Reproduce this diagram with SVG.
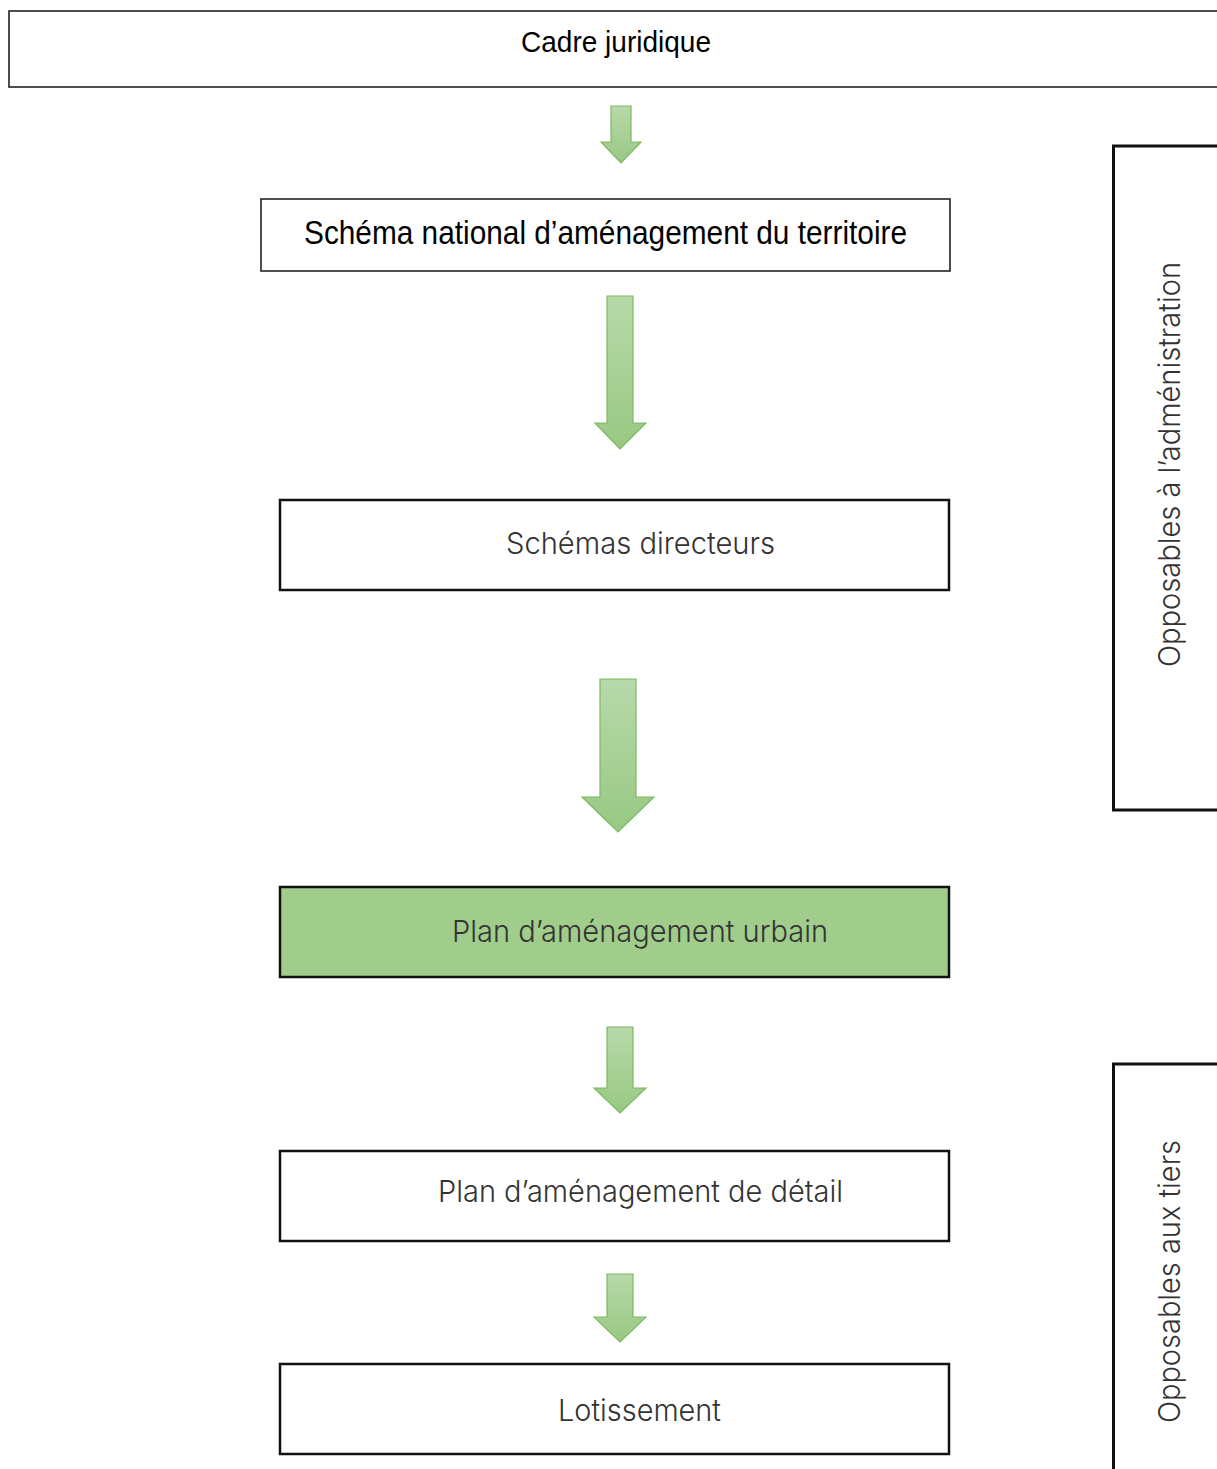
<svg xmlns="http://www.w3.org/2000/svg" width="1217" height="1469" viewBox="0 0 1217 1469">
  <style>
    .box { fill: #ffffff; stroke: #111111; stroke-width: 2.5; }
    .thin { stroke-width: 1.6; stroke: #222222; }
    .green { fill: #a0cd8c; }
    .side { fill: #ffffff; stroke: #111111; stroke-width: 3; }
    .arrow { fill: url(#arrowFill); stroke: #7dba62; stroke-width: 1.2; }
    .dark { font-family: "Liberation Sans", Arial, sans-serif; fill: #000000; text-anchor: middle; }
    .light { font-family: "Inter", "Lato", "Liberation Sans", sans-serif; font-weight: 300; fill: #333333; text-anchor: middle; }
  </style>
  <defs>
    <linearGradient id="arrowFill" x1="0" y1="0" x2="0" y2="1">
      <stop offset="0" stop-color="#b8d9aa"/>
      <stop offset="1" stop-color="#98c883"/>
    </linearGradient>
  </defs>

  <rect width="1217" height="1469" fill="#ffffff"/>

  <!-- Hierarchy arrows -->
  <g id="connectors">
    <polygon class="arrow" points="611,106 631,106 631,142 641,142 621,163 601,142 611,142"/>
    <polygon class="arrow" points="607,296 633,296 633,423 646,423 620,449 595,423 607,423"/>
    <polygon class="arrow" points="600,679 636,679 636,797 654,797 618,832 582,797 600,797"/>
    <polygon class="arrow" points="607,1027 633,1027 633,1088 646,1088 620,1113 594,1088 607,1088"/>
    <polygon class="arrow" points="607,1274 633,1274 633,1317 646,1317 620,1342 594,1317 607,1317"/>
  </g>

  <g id="cadre-juridique">
    <rect class="box thin" x="9" y="11" width="1220" height="76"/>
    <text class="dark" x="616" y="52" font-size="29" textLength="190" lengthAdjust="spacingAndGlyphs">Cadre juridique</text>
  </g>

  <g id="schema-national">
    <rect class="box thin" x="261" y="199" width="689" height="72"/>
    <text class="dark" x="605.5" y="244" font-size="33" textLength="603" lengthAdjust="spacingAndGlyphs">Schéma national d’aménagement du territoire</text>
  </g>

  <g id="schemas-directeurs">
    <rect class="box" x="280" y="500" width="669" height="90"/>
    <text class="light" x="640.5" y="554" font-size="30" textLength="269" lengthAdjust="spacingAndGlyphs">Schémas directeurs</text>
  </g>

  <g id="plan-urbain">
    <rect class="box green" x="280" y="887" width="669" height="90"/>
    <text class="light" x="640" y="942" font-size="30" textLength="376" lengthAdjust="spacingAndGlyphs">Plan d’aménagement urbain</text>
  </g>

  <g id="plan-detail">
    <rect class="box" x="280" y="1151" width="669" height="90"/>
    <text class="light" x="640.5" y="1202" font-size="30" textLength="405" lengthAdjust="spacingAndGlyphs">Plan d’aménagement de détail</text>
  </g>

  <g id="lotissement">
    <rect class="box" x="280" y="1364" width="669" height="90"/>
    <text class="light" x="639.5" y="1421" font-size="30" textLength="163" lengthAdjust="spacingAndGlyphs">Lotissement</text>
  </g>

  <g id="opposables-administration">
    <rect class="side" x="1113.5" y="146" width="120" height="664"/>
    <text class="light" transform="translate(1180,464.5) rotate(-90)" font-size="30" textLength="405" lengthAdjust="spacingAndGlyphs">Opposables à l’adménistration</text>
  </g>

  <g id="opposables-tiers">
    <rect class="side" x="1113.5" y="1064" width="120" height="420"/>
    <text class="light" transform="translate(1180,1281.5) rotate(-90)" font-size="30" textLength="283" lengthAdjust="spacingAndGlyphs">Opposables aux tiers</text>
  </g>
</svg>
